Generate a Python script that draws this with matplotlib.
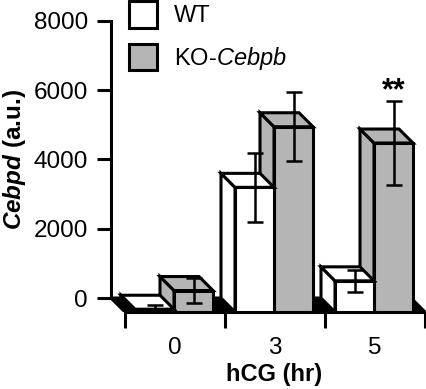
import matplotlib
matplotlib.use('Agg')
import matplotlib.pyplot as plt
from matplotlib.patches import Polygon, Rectangle, Patch
import numpy as np

plt.rcParams['font.family'] = 'Liberation Sans'
plt.rcParams['mathtext.fontset'] = 'custom'
plt.rcParams['mathtext.it'] = 'Liberation Sans:italic'
plt.rcParams['mathtext.bf'] = 'Liberation Sans:bold'
plt.rcParams['mathtext.bfit'] = 'Liberation Sans:italic:bold'

# hCG time points and Cebpd levels (a.u.)
hours = ['0', '3', '5']
wt_mean = [80, 3600, 900]
wt_err = [120, 1000, 320]
ko_mean = [620, 5350, 4880]
ko_err = [350, 1000, 1200]
yticks = [0, 2000, 4000, 6000, 8000]

GRAY = '#b5b5b5'
LW = 2.2
dx, dy = 0.14, 404  # pseudo 3d depth (data units)
width = 0.39


def bar3d(ax, left, value, color, z):
    # front face, top face and left side of a box
    front = Rectangle((left + dx, -dy), width, value)
    top = Polygon([(left, value), (left + width, value),
                   (left + width + dx, value - dy), (left + dx, value - dy)])
    side = Polygon([(left, 0), (left, value),
                    (left + dx, value - dy), (left + dx, -dy)])
    for p in (side, top, front):
        p.set_facecolor(color)
        p.set_edgecolor('black')
        p.set_linewidth(LW)
        p.set_joinstyle('miter')
        p.set_zorder(z)
        ax.add_patch(p)


fig = plt.figure(figsize=(4.26, 3.89), dpi=100)
ax = fig.add_axes([111 / 426, 77 / 389, 315 / 426, 312 / 389])
ax.set_xlim(0, 3.15)
ax.set_ylim(-dy, 8606)

# black floor
floor = Polygon([(0, 0), (3.0, 0), (3.0 + dx, -dy), (dx, -dy)],
                facecolor='black', edgecolor='black', linewidth=LW, zorder=1)
ax.add_patch(floor)

x = np.arange(len(hours))
z = 10
# draw from right to left so the left boxes sit in front
for i in reversed(range(len(hours))):
    bar3d(ax, x[i] + 0.49, ko_mean[i], GRAY, z)
    z += 1
    bar3d(ax, x[i] + 0.10, wt_mean[i], 'white', z)
    z += 1

wt_x = x + 0.10 + width / 2 + dx
ko_x = x + 0.49 + width / 2 + dx
wt_lo = np.minimum(wt_err, wt_mean)
ax.errorbar(wt_x, np.array(wt_mean) - dy, yerr=[wt_lo, wt_err], fmt='none',
            ecolor='black', elinewidth=1.8, capsize=5.5, capthick=1.8, zorder=50)
ax.errorbar(ko_x, np.array(ko_mean) - dy, yerr=ko_err, fmt='none',
            ecolor='black', elinewidth=1.8, capsize=5.5, capthick=1.8, zorder=50)

ax.annotate('**', (ko_x[2], ko_mean[2] + ko_err[2] - dy), xytext=(0, -3.5),
            textcoords='offset points', ha='center', va='bottom',
            fontsize=22, fontweight='bold', annotation_clip=False)

# axes styling
for s in ('top', 'right'):
    ax.spines[s].set_visible(False)
ax.spines['left'].set_bounds(0, 8000)
ax.spines['bottom'].set_bounds(dx, 3.15)
ax.spines['left'].set_linewidth(LW)
ax.spines['bottom'].set_linewidth(LW)

ax.set_yticks(yticks)
ax.set_yticklabels([str(t) for t in yticks])
ax.tick_params(axis='y', length=10, width=LW, pad=6.5, labelsize=17.5)

ax.set_xticks(list(x + dx) + [3 + dx])
ax.set_xticklabels([])
ax.set_xticks(x + 0.5 + dx, minor=True)
ax.set_xticklabels(hours, minor=True)
ax.tick_params(axis='x', which='major', length=11.5, width=LW)
ax.tick_params(axis='x', which='minor', length=0, pad=18, labelsize=17.5)

ax.set_xlabel('hCG (hr)', fontsize=17, fontweight='bold')
ax.xaxis.set_label_coords((274 - 111) / 315, -0.1635)
ax.set_ylabel(r'$\mathbfit{Cebpd}$ (a.u.)', fontsize=17.5, fontweight='bold')
ax.yaxis.set_label_coords((28 - 111) / 315, 0.49)

handles = [Patch(facecolor='white', edgecolor='black', linewidth=LW),
           Patch(facecolor=GRAY, edgecolor='black', linewidth=LW)]
fig.legend(handles, ['WT', r'KO-$\mathit{Cebpb}$'], loc='upper left',
           bbox_to_anchor=(129 / 426, 1 - 1 / 389), frameon=False,
           fontsize=17, handlelength=1.2, handleheight=1.35,
           handletextpad=0.7, labelspacing=0.68, borderpad=0,
           borderaxespad=0)

fig.savefig('out.png', dpi=100)
